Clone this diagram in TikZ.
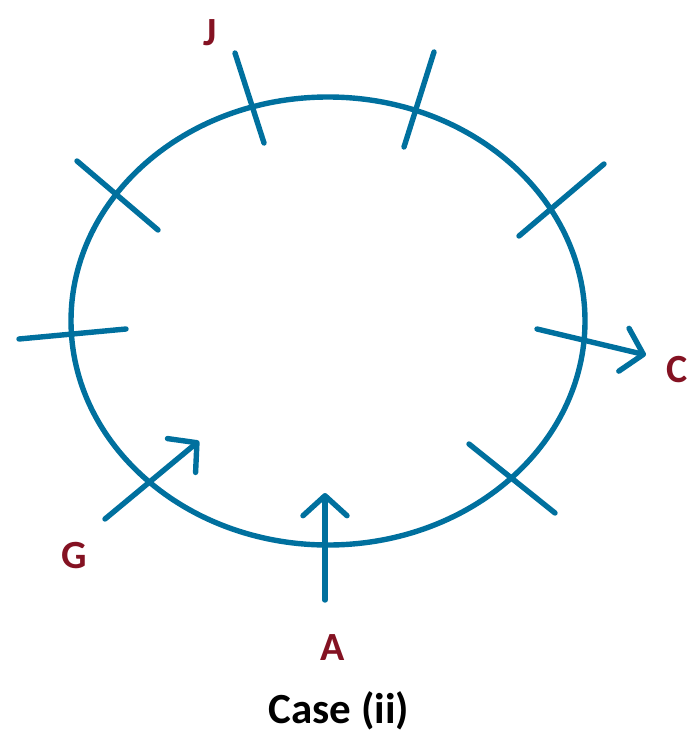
\documentclass[tikz,border=0pt]{standalone}
\usepackage{fontspec}
\setmainfont{Carlito}
\usetikzlibrary{arrows.meta}

\definecolor{ringblue}{RGB}{0,112,158}
\definecolor{labelred}{RGB}{132,18,34}

\begin{document}
\begin{tikzpicture}[x=0.5pt,y=0.5pt,
    ring/.style={draw=ringblue, line width=2.7pt},
    crossline/.style={ringblue, line width=2.7pt, line cap=round},
    flowarrow/.style={crossline, -{Straight Barb[length=10pt,width=22pt,round]}},
    lbl/.style={text=labelred, font=\fontsize{20}{23}\selectfont\bfseries}]
    % Frame
    \useasboundingbox (0,0) rectangle (692,-733);

    % The ring
    \draw[ring] (328,-321) ellipse [x radius=128.5pt, y radius=112pt];

    % Cross marks on the ring
    \coordinate (jIn)  at (264,-143); \coordinate (jOut)  at (235,-53);
    \coordinate (tIn)  at (404,-147); \coordinate (tOut)  at (434,-52);
    \coordinate (ulIn) at (158,-230); \coordinate (ulOut) at (77,-161);
    \coordinate (urIn) at (519,-236); \coordinate (urOut) at (604,-164);
    \coordinate (lIn)  at (126,-329); \coordinate (lOut)  at (19,-339);
    \coordinate (lrIn) at (469,-444); \coordinate (lrOut) at (555,-513);
    \draw[crossline] (jOut) -- (jIn);
    \draw[crossline] (tOut) -- (tIn);
    \draw[crossline] (ulOut) -- (ulIn);
    \draw[crossline] (urOut) -- (urIn);
    \draw[crossline] (lOut) -- (lIn);
    \draw[crossline] (lrOut) -- (lrIn);

    % Arrows through the ring
    \coordinate (cIn)  at (537,-329); \coordinate (cOut)  at (646,-355);
    \coordinate (gOut) at (105,-519); \coordinate (gIn)   at (199,-441);
    \coordinate (aOut) at (325,-600); \coordinate (aIn)   at (325,-493);
    \draw[flowarrow] (cIn) -- (cOut);
    \draw[flowarrow] (gOut) -- (gIn);
    \draw[flowarrow] (aOut) -- (aIn);

    % Labels
    \node[lbl] (J) at (210,-33) {J};
    \node[lbl] (C) at (677,-370) {C};
    \node[lbl] (G) at (74,-556) {G};
    \node[lbl] (A) at (333,-648) {A};
    \node[font=\fontsize{21.5}{25}\selectfont\bfseries] (caseii) at (339,-711) {Case (ii)};
\end{tikzpicture}
\end{document}
